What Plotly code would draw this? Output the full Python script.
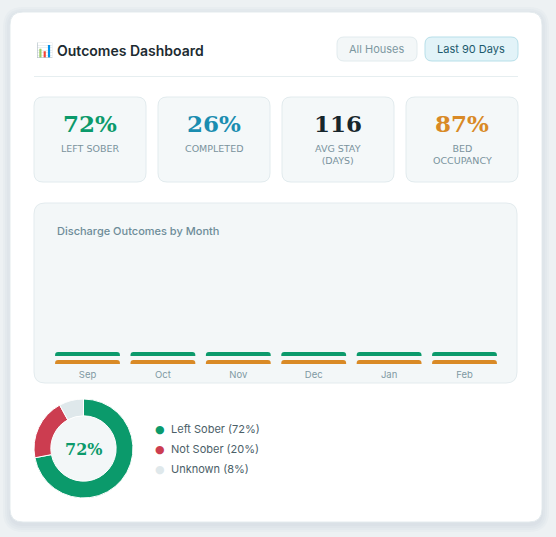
import plotly.graph_objects as go

W, H = 556, 537

# ---------------- data ----------------
months = ["Sep", "Oct", "Nov", "Dec", "Jan", "Feb"]
left_sober = [1, 1, 1, 1, 1, 1]
completed = [1, 1, 1, 1, 1, 1]

kpi_values = ["72%", "26%", "116", "87%"]
kpi_labels = ["LEFT SOBER", "COMPLETED", "AVG STAY<br>(DAYS)", "BED<br>OCCUPANCY"]
kpi_colors = ["#0b9a6b", "#1a8db0", "#17262c", "#d98a26"]

outcome_labels = ["Left Sober", "Not Sober", "Unknown"]
outcome_values = [72, 20, 8]
outcome_colors = ["#0b9a6b", "#cc3d50", "#dfe8eb"]

filters = ["All Houses", "Last 90 Days"]

# ---------------- helpers ----------------
def px(x):
    return x / W

def py(y):
    return 1 - y / H

def rrect(x0, y0, x1, y1, r, fill, line=None, lw=1, opacity=1.0):
    X0, X1 = px(x0), px(x1)
    Y0, Y1 = py(y0), py(y1)
    rx, ry = r / W, r / H
    path = (
        f"M{X0+rx},{Y0} L{X1-rx},{Y0} Q{X1},{Y0} {X1},{Y0-ry} "
        f"L{X1},{Y1+ry} Q{X1},{Y1} {X1-rx},{Y1} "
        f"L{X0+rx},{Y1} Q{X0},{Y1} {X0},{Y1+ry} "
        f"L{X0},{Y0-ry} Q{X0},{Y0} {X0+rx},{Y0} Z"
    )
    return dict(type="path", xref="paper", yref="paper", path=path,
                fillcolor=fill, line=dict(color=line or fill, width=lw if line else 0),
                layer="below", opacity=opacity)

shapes = []
annotations = []

# card shadow + card
for i, op in enumerate([0.035, 0.035, 0.035, 0.035]):
    d = 2 + i * 2
    shapes.append(rrect(10 - d + 1, 12 - d + 3, 542 + d - 1, 522 + d + 2, 12 + d,
                        "#7d959e", opacity=op))
shapes.append(rrect(10, 12, 542, 522, 13, "#ffffff", "#e4ebee", 1))

# header
annotations.append(dict(x=px(34), y=py(50.5), xref="paper", yref="paper", xanchor="left",
                        yanchor="middle", showarrow=False, text="📊",
                        font=dict(size=14, family="Noto Color Emoji, Noto Sans")))
annotations.append(dict(x=px(55), y=py(51), xref="paper", yref="paper", xanchor="left",
                        yanchor="middle", showarrow=False, text="Outcomes Dashboard",
                        font=dict(size=14, family="Inter", color="#1d2b31", weight=600)))

btn_boxes = [(337, 417), (425, 518)]
btn_styles = [("#f3f7f8", "#e2ebee", "#7d97a1"), ("#e2f3f8", "#b7dfe9", "#1c5a6d")]
for label, (bx0, bx1), (bg, bd, fc) in zip(filters, btn_boxes, btn_styles):
    shapes.append(rrect(bx0, 37, bx1, 61, 7, bg, bd, 1))
    annotations.append(dict(x=px((bx0 + bx1) / 2), y=py(49), xref="paper", yref="paper",
                            xanchor="center", yanchor="middle", showarrow=False, text=label,
                            font=dict(size=11, family="Inter", color=fc)))

# divider
shapes.append(dict(type="line", xref="paper", yref="paper", x0=px(34), x1=px(518),
                   y0=py(76.5), y1=py(76.5), line=dict(color="#e6eef0", width=1), layer="below"))

# KPI cards
for i, (v, lab, col) in enumerate(zip(kpi_values, kpi_labels, kpi_colors)):
    cx0 = 34 + i * 124
    cx1 = cx0 + 112
    shapes.append(rrect(cx0, 97, cx1, 182, 9, "#f4f8f9", "#e2ebee", 1))
    cx = (cx0 + cx1) / 2
    annotations.append(dict(x=px(cx), y=py(123.5), xref="paper", yref="paper",
                            xanchor="center", yanchor="middle", showarrow=False, text=v,
                            font=dict(size=23, family="DejaVu Serif", color=col, weight=700)))
    annotations.append(dict(x=px(cx), y=py(141), xref="paper", yref="paper",
                            xanchor="center", yanchor="top", showarrow=False, text=lab,
                            font=dict(size=9.5, family="DejaVu Sans", color="#7a939d")))

# chart panel
shapes.append(rrect(34, 203, 517, 383, 11, "#f3f7f8", "#e3ebee", 1))
annotations.append(dict(x=px(55), y=py(231), xref="paper", yref="paper", xanchor="left",
                        yanchor="middle", showarrow=False, text="Discharge Outcomes by Month",
                        font=dict(size=11, family="Inter", color="#6e8d99", weight=500)))

# donut inner fill
cxd, cyd, rin = 83.5, 448.5, 33
shapes.append(dict(type="circle", xref="paper", yref="paper", x0=px(cxd - rin), x1=px(cxd + rin),
                   y0=py(cyd + rin), y1=py(cyd - rin), fillcolor="#f3f7f8",
                   line=dict(width=0), layer="below"))
annotations.append(dict(x=px(cxd), y=py(cyd + 1), xref="paper", yref="paper", xanchor="center",
                        yanchor="middle", showarrow=False, text=f"{outcome_values[0]}%",
                        font=dict(size=16, family="DejaVu Serif", color=outcome_colors[0],
                                  weight=700)))

# donut legend
for i, (lab, val, col) in enumerate(zip(outcome_labels, outcome_values, outcome_colors)):
    yy = 429 + i * 20
    annotations.append(dict(x=px(152.5), y=py(yy), xref="paper", yref="paper", xanchor="left",
                            yanchor="middle", showarrow=False,
                            text=f"<span style='color:{col}'>●</span>",
                            font=dict(size=11, family="DejaVu Sans", color=col)))
    annotations.append(dict(x=px(169), y=py(yy), xref="paper", yref="paper", xanchor="left",
                            yanchor="middle", showarrow=False, text=f"{lab} ({val}%)",
                            font=dict(size=11, family="Inter", color="#4b6068")))

fig = go.Figure()

fig.add_trace(go.Bar(x=months, y=completed, name="Completed", xaxis="x", yaxis="y",
                     marker=dict(color="#d98a26", cornerradius=3, line=dict(width=0)),
                     hoverinfo="skip"))
fig.add_trace(go.Bar(x=months, y=left_sober, name="Left Sober", xaxis="x", yaxis="y2",
                     marker=dict(color="#0b9a6b", cornerradius=3, line=dict(width=0)),
                     hoverinfo="skip"))

fig.add_trace(go.Pie(labels=outcome_labels, values=outcome_values, hole=0.66, sort=False,
                     direction="clockwise", rotation=0, textinfo="none", hoverinfo="skip",
                     marker=dict(colors=outcome_colors, line=dict(color="#ffffff", width=1)),
                     domain=dict(x=[px(34), px(133)], y=[py(498), py(399)]),
                     showlegend=False))

fig.update_layout(
    width=W, height=H, margin=dict(l=0, r=0, t=0, b=0),
    paper_bgcolor="#edf1f3", plot_bgcolor="rgba(0,0,0,0)",
    showlegend=False, bargap=0.14,
    shapes=shapes, annotations=annotations,
    xaxis=dict(domain=[px(49.8), px(502.2)], anchor="y", showgrid=False, zeroline=False,
               showline=False, ticks="", ticklabelstandoff=3,
               tickfont=dict(size=9.5, family="Inter", color="#7f99a3"),
               fixedrange=True),
    yaxis=dict(domain=[py(364), py(360)], range=[0, 1], visible=False, fixedrange=True),
    yaxis2=dict(domain=[py(356), py(352)], range=[0, 1], visible=False, anchor="x",
                fixedrange=True),
)

fig.write_html("out.html", config=dict(displayModeBar=False),
               post_script="document.body.style.margin='0';document.body.style.overflow='hidden';")
